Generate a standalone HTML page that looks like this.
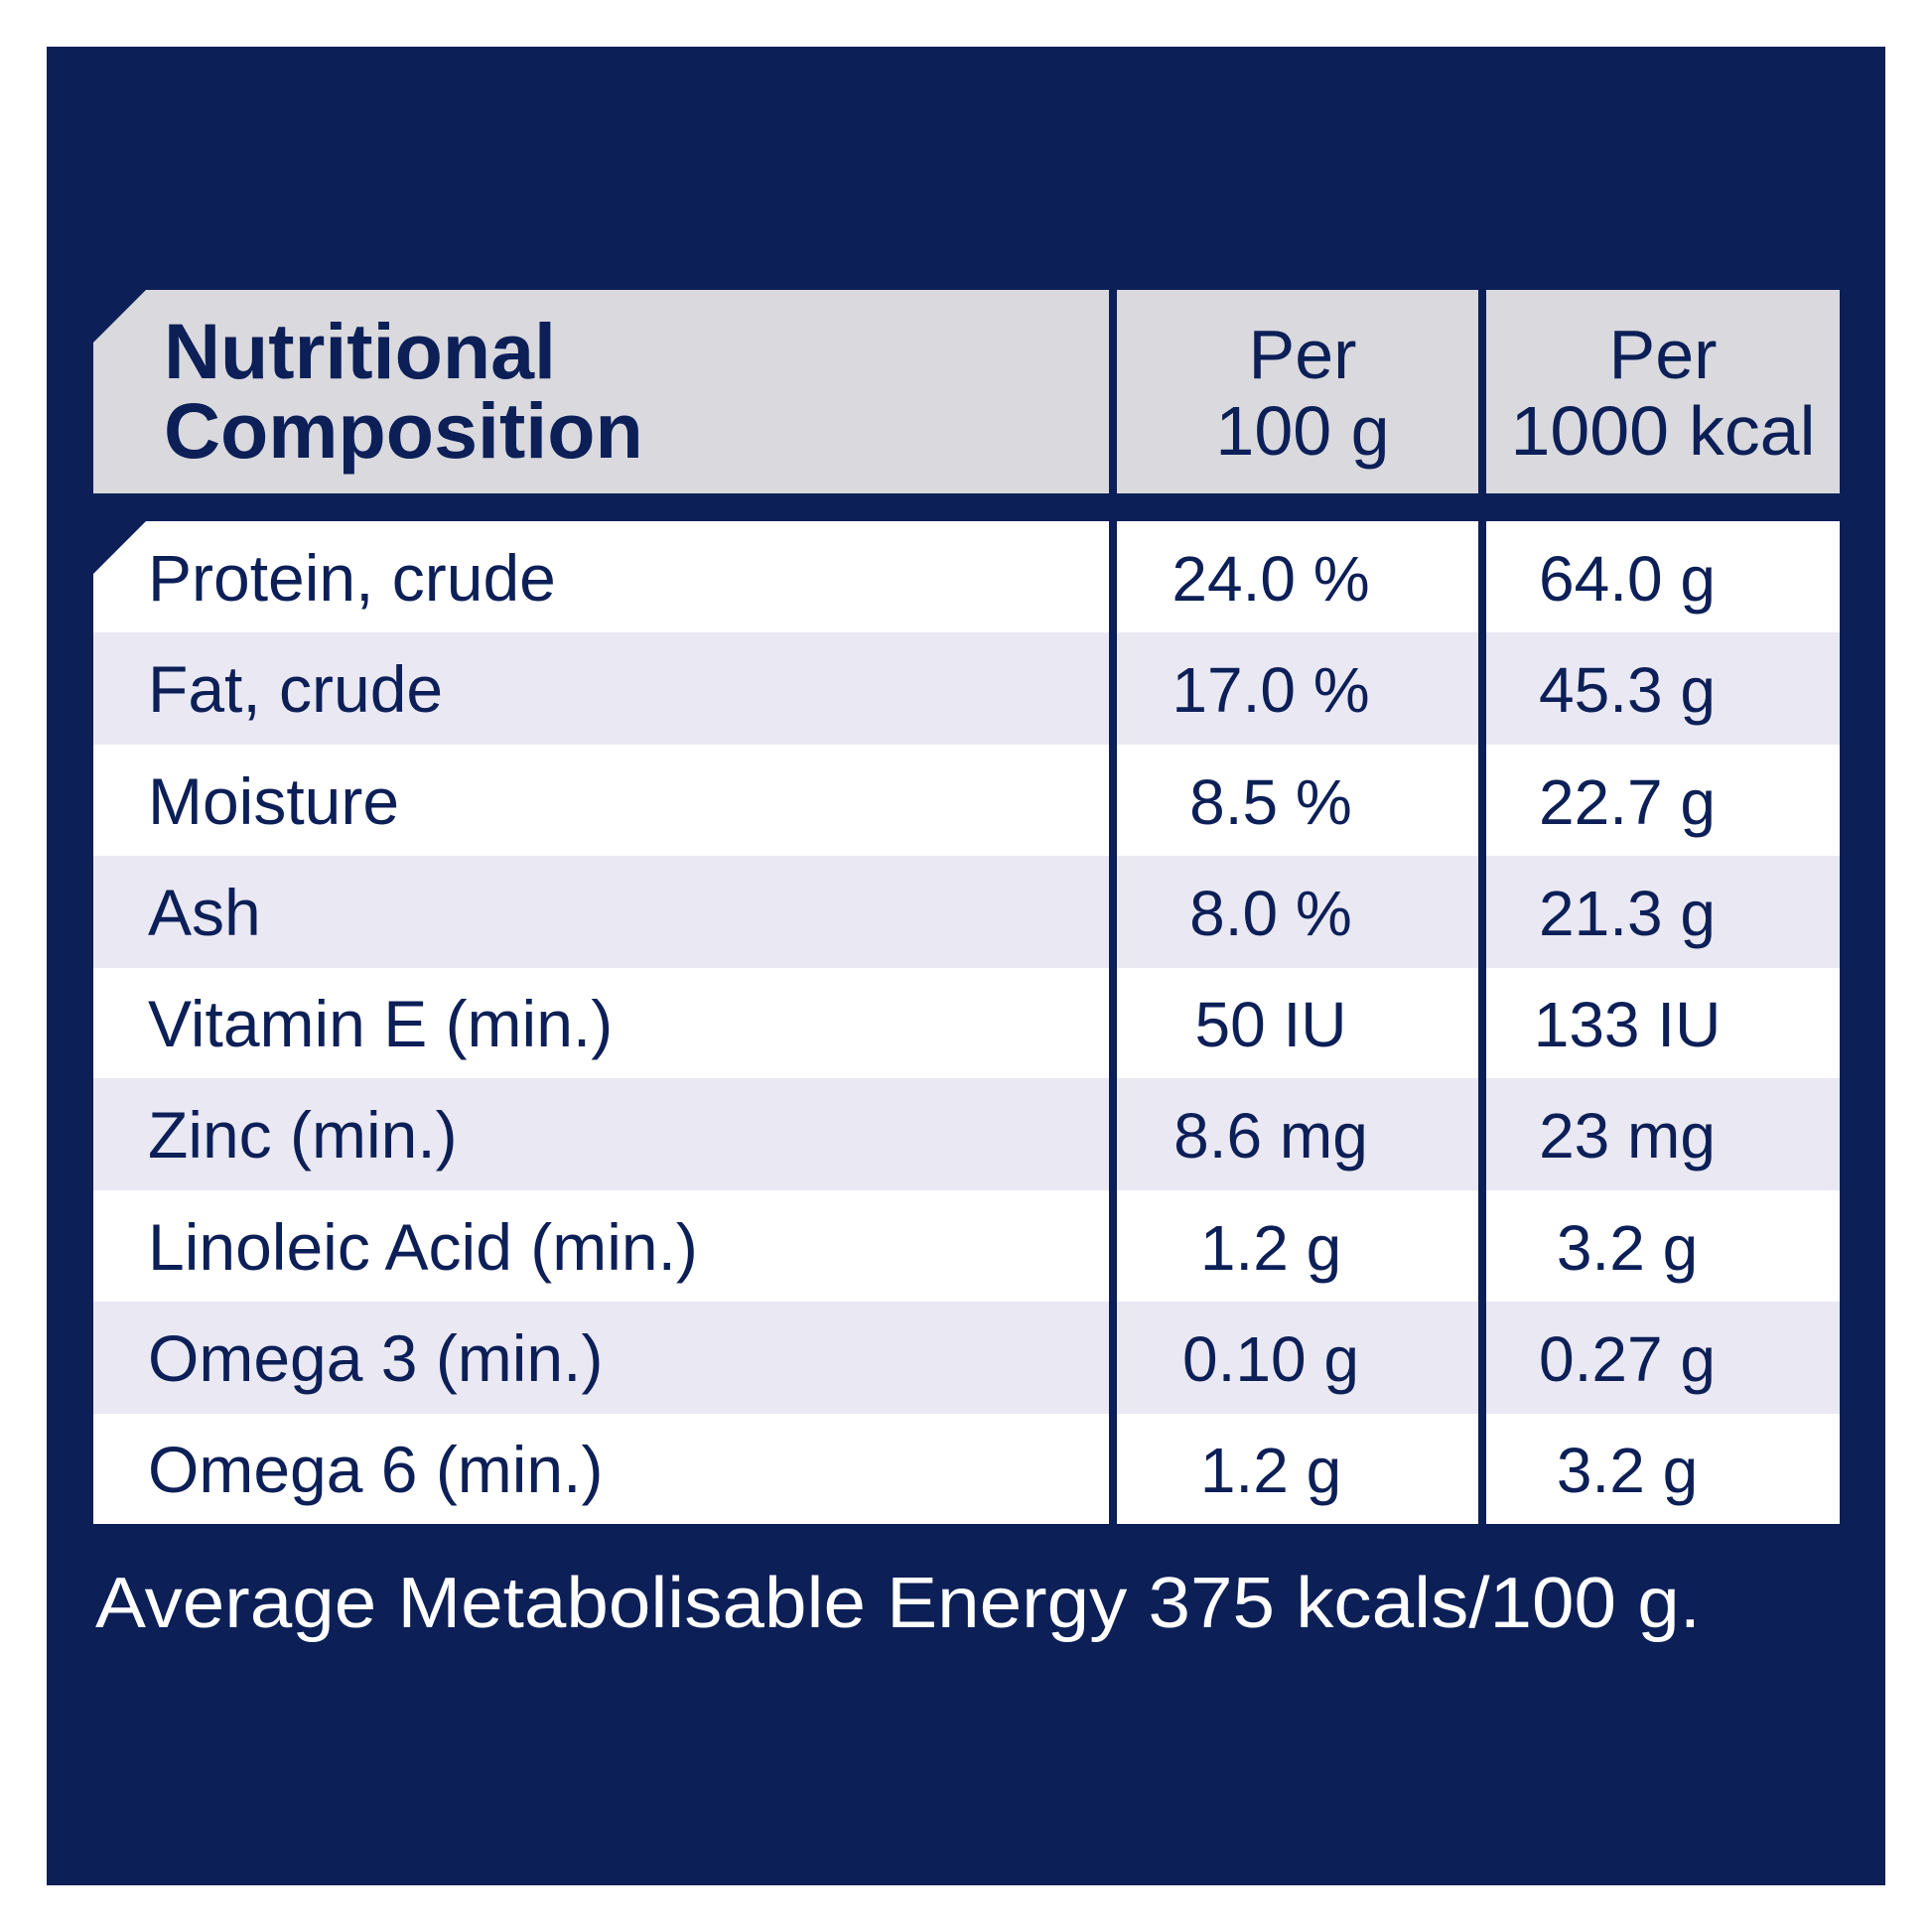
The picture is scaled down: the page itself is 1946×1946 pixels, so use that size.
<!DOCTYPE html>
<html><head><meta charset="utf-8"><style>html,body{margin:0;padding:0;background:#fff}svg{display:block}</style></head>
<body>
<svg width="1946" height="1946" viewBox="0 0 1946 1946" xmlns="http://www.w3.org/2000/svg" font-family="Liberation Sans, sans-serif">
<rect x="47" y="47" width="1852" height="1852" fill="#0c1f57"/>
<polygon points="147,292 1117,292 1117,497 94,497 94,345" fill="#d9d9de"/>
<rect x="1125" y="292" width="364" height="205" fill="#d9d9de"/>
<rect x="1497" y="292" width="356" height="205" fill="#d9d9de"/>
<g>
<polygon points="147,525 1117,525 1117,637 94,637 94,578" fill="#fff"/>
<rect x="1125" y="525" width="364" height="112" fill="#fff"/>
<rect x="1497" y="525" width="356" height="112" fill="#fff"/>
</g>
<g fill="#e9e8f3">
<rect x="94" y="637" width="1023" height="113"/><rect x="1125" y="637" width="364" height="113"/><rect x="1497" y="637" width="356" height="113"/>
<rect x="94" y="862" width="1023" height="113"/><rect x="1125" y="862" width="364" height="113"/><rect x="1497" y="862" width="356" height="113"/>
<rect x="94" y="1086" width="1023" height="113"/><rect x="1125" y="1086" width="364" height="113"/><rect x="1497" y="1086" width="356" height="113"/>
<rect x="94" y="1311" width="1023" height="113"/><rect x="1125" y="1311" width="364" height="113"/><rect x="1497" y="1311" width="356" height="113"/>
</g>
<g fill="#fff">
<rect x="94" y="750" width="1023" height="112"/><rect x="1125" y="750" width="364" height="112"/><rect x="1497" y="750" width="356" height="112"/>
<rect x="94" y="975" width="1023" height="111"/><rect x="1125" y="975" width="364" height="111"/><rect x="1497" y="975" width="356" height="111"/>
<rect x="94" y="1199" width="1023" height="112"/><rect x="1125" y="1199" width="364" height="112"/><rect x="1497" y="1199" width="356" height="112"/>
<rect x="94" y="1424" width="1023" height="111"/><rect x="1125" y="1424" width="364" height="111"/><rect x="1497" y="1424" width="356" height="111"/>
</g>
<g fill="#0c1f57">
<text x="165" y="381" font-size="79" font-weight="bold">Nutritional</text>
<text x="165" y="461" font-size="79" font-weight="bold">Composition</text>
<text x="1312" y="381" font-size="70" text-anchor="middle">Per</text>
<text x="1312" y="458" font-size="70" text-anchor="middle">100 g</text>
<text x="1675" y="381" font-size="70" text-anchor="middle">Per</text>
<text x="1675" y="458" font-size="70" text-anchor="middle" textLength="307" lengthAdjust="spacingAndGlyphs">1000 kcal</text>
</g>
<g fill="#0c1f57" font-size="66">
<text x="149" y="605">Protein, crude</text>
<text x="149" y="717">Fat, crude</text>
<text x="149" y="830">Moisture</text>
<text x="149" y="942">Ash</text>
<text x="149" y="1054">Vitamin E (min.)</text>
<text x="149" y="1166">Zinc (min.)</text>
<text x="149" y="1279">Linoleic Acid (min.)</text>
<text x="149" y="1391">Omega 3 (min.)</text>
<text x="149" y="1503">Omega 6 (min.)</text>
</g>
<g fill="#0c1f57" font-size="64" text-anchor="middle">
<text x="1280" y="605">24.0 %</text>
<text x="1280" y="717">17.0 %</text>
<text x="1280" y="830">8.5 %</text>
<text x="1280" y="942">8.0 %</text>
<text x="1280" y="1054">50 IU</text>
<text x="1280" y="1166">8.6 mg</text>
<text x="1280" y="1279">1.2 g</text>
<text x="1280" y="1391">0.10 g</text>
<text x="1280" y="1503">1.2 g</text>
<text x="1639" y="605">64.0 g</text>
<text x="1639" y="717">45.3 g</text>
<text x="1639" y="830">22.7 g</text>
<text x="1639" y="942">21.3 g</text>
<text x="1639" y="1054">133 IU</text>
<text x="1639" y="1166">23 mg</text>
<text x="1639" y="1279">3.2 g</text>
<text x="1639" y="1391">0.27 g</text>
<text x="1639" y="1503">3.2 g</text>
</g>
<text x="96" y="1639" font-size="72" fill="#fff" textLength="1617" lengthAdjust="spacingAndGlyphs">Average Metabolisable Energy 375 kcals/100 g.</text>
</svg>
</body></html>
